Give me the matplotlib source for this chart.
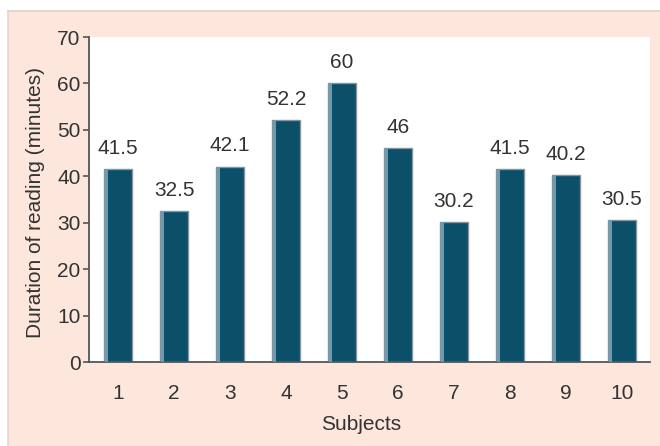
import matplotlib
matplotlib.use("Agg")
import matplotlib.pyplot as plt
from matplotlib.patches import Rectangle

# Reading duration per subject
subjects = [1, 2, 3, 4, 5, 6, 7, 8, 9, 10]
durations = [41.5, 32.5, 42.1, 52.2, 60, 46, 30.2, 41.5, 40.2, 30.5]
labels = ["41.5", "32.5", "42.1", "52.2", "60", "46", "30.2", "41.5", "40.2", "30.5"]
y_ticks = [0, 10, 20, 30, 40, 50, 60, 70]

plt.rcParams["font.family"] = ["Liberation Sans", "DejaVu Sans"]

peach = "#fde6dc"
bar_color = "#0b4f68"
text_color = "#333333"
axis_color = "#555555"
fs = 15

fig = plt.figure(figsize=(6.6, 4.46), dpi=100)
fig.patch.set_facecolor("white")

# Peach backdrop panel with a thin grey border on top and left
panel = Rectangle((8 / 660, 0), 1 - 8 / 660, 1 - 11 / 446, transform=fig.transFigure,
                  facecolor=peach, edgecolor="none", zorder=-2)
fig.patches.append(panel)
fig.add_artist(plt.Line2D([8 / 660, 1], [1 - 11 / 446] * 2, transform=fig.transFigure,
                          color="#d8d0cc", lw=1.2, zorder=-1))
fig.add_artist(plt.Line2D([8 / 660] * 2, [0, 1 - 11 / 446], transform=fig.transFigure,
                          color="#e6d6d0", lw=1.2, zorder=-1))

ax = fig.add_axes([89 / 660, 84 / 446, (650 - 89) / 660, (362 - 37) / 446])
ax.set_zorder(2)
ax.set_facecolor("white")

width = 0.5
ax.bar(subjects, durations, width=width, color=bar_color, edgecolor="#8595a0",
       linewidth=1.0, zorder=2)
# lighter sheen along the left side of each bar
ax.bar([s - width / 2 + 0.04 for s in subjects], durations, width=0.05,
       color="#6a9bb3", edgecolor="none", linewidth=0, zorder=3)

for s, d, lab in zip(subjects, durations, labels):
    ax.annotate(lab, (s, d), xytext=(0, 8), textcoords="offset points",
                ha="center", va="bottom", fontsize=fs, color=text_color)

ax.set_xlim(0.48, 10.5)
ax.set_ylim(0, 70)
ax.set_xticks(subjects)
ax.set_yticks(y_ticks)
ax.tick_params(axis="x", length=0, pad=16, labelsize=fs, labelcolor=text_color)
ax.tick_params(axis="y", length=4, width=1.2, color=axis_color, pad=2,
               labelsize=fs, labelcolor=text_color)

for side in ("top", "right"):
    ax.spines[side].set_visible(False)
for side in ("left", "bottom"):
    ax.spines[side].set_color(axis_color)
    ax.spines[side].set_linewidth(1.3)

ax.set_ylabel("Duration of reading (minutes)", fontsize=fs, color=text_color)
ax.set_xlabel("Subjects", fontsize=fs, color=text_color)
ax.yaxis.set_label_coords(-44 / 561, 0.49)
ax.xaxis.set_label_coords(0.485, -53 / 325)

fig.savefig("out.png", dpi=100, facecolor=fig.get_facecolor())
